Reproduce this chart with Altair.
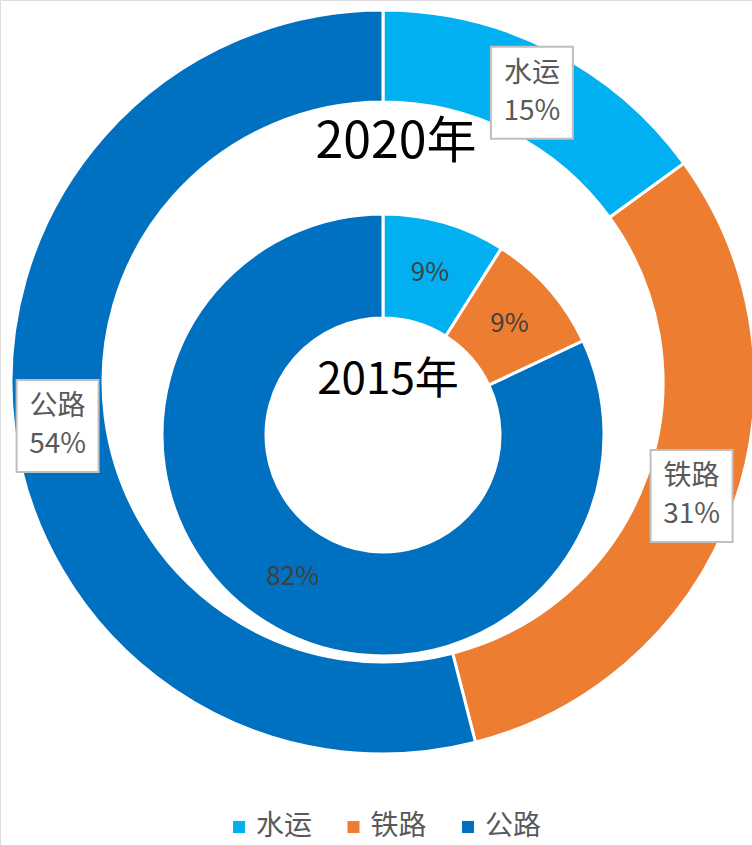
import altair as alt
import pandas as pd

categories = ["水运", "铁路", "公路"]
values_2020 = [15, 31, 54]
values_2015 = [9, 9, 82]
colors = ["#00B0F0", "#ED7D31", "#0070C0"]
year_labels = ["2020年", "2015年"]

FONT = "Noto Sans CJK SC"

df20 = pd.DataFrame({"cat": categories, "value": values_2020, "order": [0, 1, 2]})
df15 = pd.DataFrame({"cat": categories, "value": values_2015, "order": [0, 1, 2]})
dleg = pd.DataFrame({"cat": categories, "order": [0, 1, 2]})

color_scale = alt.Scale(domain=categories, range=colors)

# outer ring (2020)
OCX, OCY, OR, OIR = 383, 382, 372, 280
# inner ring (2015)
ICX, ICY, IR, IIR = 383, 435, 221, 117

outer = alt.Chart(df20).mark_arc(
    x=OCX, y=OCY, radius=OR, radius2=OIR, stroke="white", strokeWidth=3
).encode(
    theta=alt.Theta("value:Q", stack=True),
    color=alt.Color("cat:N", scale=color_scale, legend=None),
    order=alt.Order("order:Q"),
)

inner = alt.Chart(df15).mark_arc(
    x=ICX, y=ICY, radius=IR, radius2=IIR, stroke="white", strokeWidth=3
).encode(
    theta=alt.Theta("value:Q", stack=True),
    color=alt.Color("cat:N", scale=color_scale, legend=None),
    order=alt.Order("order:Q"),
)


def polar(chart, cx, cy, r):
    return chart.transform_window(
        cum="sum(value)", sort=[alt.SortField("order")]
    ).transform_calculate(
        mid="(datum.cum - datum.value/2)/100*2*PI",
        px=f"{cx} + {r}*sin(datum.mid)",
        py=f"{cy} - {r}*cos(datum.mid)",
        pct="datum.value + '%'",
        bx1="datum.px - 41",
        bx2="datum.px + 41",
        by1="datum.py - 46",
        by2="datum.py + 46",
    )


obase = polar(alt.Chart(df20), OCX, OCY + 3, 328)
boxes = obase.mark_rect(fill="white", stroke="#BFBFBF", strokeWidth=2).encode(
    x=alt.X("bx1:Q", scale=None, axis=None),
    x2="bx2:Q",
    y=alt.Y("by1:Q", scale=None, axis=None),
    y2="by2:Q",
)
otext1 = obase.mark_text(font=FONT, fontSize=28, color="#595959", dy=-19, baseline="middle").encode(
    x=alt.X("px:Q", scale=None, axis=None),
    y=alt.Y("py:Q", scale=None, axis=None),
    text="cat:N",
)
otext2 = obase.mark_text(font=FONT, fontSize=28, color="#595959", dy=19, baseline="middle").encode(
    x=alt.X("px:Q", scale=None, axis=None),
    y=alt.Y("py:Q", scale=None, axis=None),
    text="pct:N",
)

ibase = polar(alt.Chart(df15), ICX, ICY, 168.5)
itext = ibase.mark_text(font=FONT, fontSize=26, color="#404040", baseline="middle").encode(
    x=alt.X("px:Q", scale=None, axis=None),
    y=alt.Y("py:Q", scale=None, axis=None),
    text="pct:N",
)

t2020 = alt.Chart(pd.DataFrame({"t": [year_labels[0]]})).mark_text(
    font=FONT, fontSize=50, color="black", baseline="middle"
).encode(x=alt.value(396), y=alt.value(143), text="t:N")
t2015 = alt.Chart(pd.DataFrame({"t": [year_labels[1]]})).mark_text(
    font=FONT, fontSize=44, color="black", baseline="middle"
).encode(x=alt.value(388), y=alt.value(381), text="t:N")

lbase = alt.Chart(dleg).transform_calculate(
    sx="239 + 114.5*datum.order", tx="256 + 114.5*datum.order", ly="827"
)
lsq = lbase.mark_square(size=144, opacity=1).encode(
    x=alt.X("sx:Q", scale=None, axis=None),
    y=alt.Y("ly:Q", scale=None, axis=None),
    color=alt.Color("cat:N", scale=color_scale, legend=None),
)
ltxt = lbase.mark_text(font=FONT, fontSize=28, color="#595959", align="left", baseline="middle").encode(
    x=alt.X("tx:Q", scale=None, axis=None),
    y=alt.Y("ly:Q", scale=None, axis=None),
    text="cat:N",
)

chart = alt.layer(
    outer, inner, boxes, otext1, otext2, itext, t2020, t2015, lsq, ltxt
).properties(
    width=752, height=845, padding=0, autosize=alt.AutoSizeParams(type="none")
).configure_view(strokeWidth=0, stroke="transparent").configure(background="white")

chart.save("out.html", embed_options={"renderer": "svg", "actions": False})
